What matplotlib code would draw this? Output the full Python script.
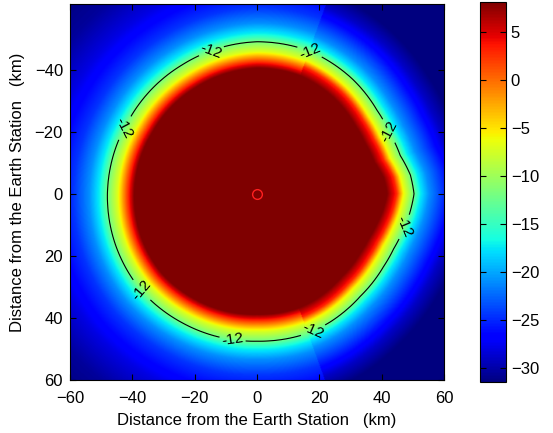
import numpy as np
import matplotlib
matplotlib.use('Agg')
import matplotlib.pyplot as plt

plt.rcParams['font.family'] = ['Liberation Sans', 'DejaVu Sans']

# radius (km) of the -12 contour, read at a set of bearings (deg, atan2(y, x))
theta_deg = [-180, -150, -120, -90, -70, -50, -35, -25, -15, -7, 0,
             8, 15, 22, 30, 45, 60, 70, 90, 120, 140, 160, 180]
contour_radius = [48.0, 47.5, 48.0, 49.0, 49.0, 48.0, 47.0, 46.9, 47.6, 49.6, 50.4,
                  49.3, 48.2, 47.3, 46.9, 46.8, 47.5, 47.8, 47.5, 48.0, 48.5, 48.3, 48.0]

# level (dB) against distance past that contour (km), west and east of the cut
offset_km = [-40.0, -8.5, -6.7, -3.2, 0.0, 2.5, 6.0, 11.0, 20.0, 30.0, 40.0]
west_level = [9.0, 8.0, 3.0, -7.0, -12.0, -17.0, -21.0, -24.5, -28.0, -30.5, -31.5]
east_offset_km = [-40.0, -8.5, -5.5, -3.3, 0.0, 2.0, 5.0, 10.0, 15.0, 20.0, 40.0]
east_level = [9.0, 8.0, 3.0, -6.0, -12.0, -17.0, -21.0, -25.0, -29.0, -31.5, -31.5]
cut_deg = 70

contour_level = -12
cbar_ticks = [-30, -25, -20, -15, -10, -5, 0, 5]
axis_ticks = [-60, -40, -20, 0, 20, 40, 60]
label_xy = [(-15, -47), (-44, -22), (-37, 31), (-8, 48), (18, 44),
            (48, 11), (44, -21), (17, -46)]

x = np.linspace(-61, 61, 489)
y = np.linspace(-62, 61, 493)
X, Y = np.meshgrid(x, y)
R = np.hypot(X, Y)
T = np.degrees(np.arctan2(Y, X))
Rc = np.interp(T, theta_deg, contour_radius)
D = R - Rc
Z = np.where(np.abs(T) < cut_deg,
             np.interp(D, east_offset_km, east_level),
             np.interp(D, offset_km, west_level))

fig = plt.figure(figsize=(5.53, 4.33), dpi=100)
ax = fig.add_axes([70 / 553, 1 - 380 / 433, 374 / 553, 375.5 / 433])
cax = fig.add_axes([480 / 553, 1 - 382 / 433, 26 / 553, 380 / 433])

im = ax.imshow(Z, cmap='jet', vmin=-31.5, vmax=8.1, origin='lower',
               extent=[x[0], x[-1], y[0], y[-1]], aspect='auto',
               interpolation='bilinear')
cs = ax.contour(X, Y, Z, levels=[contour_level], colors='k',
                linewidths=0.8, linestyles='solid')
ax.clabel(cs, fmt='%d', fontsize=11, inline=True, inline_spacing=2,
          manual=label_xy)
ax.plot(0, 0, 'o', mfc='none', mec='#ff2020', ms=7, mew=1)

ax.set_xlim(-60, 60)
ax.set_ylim(60, -61)
ax.set_xticks(axis_ticks)
ax.set_yticks(axis_ticks[1:])
ax.tick_params(direction='in', top=True, right=True, labelsize=12, length=4)
ax.tick_params(axis='x', pad=8)
ax.tick_params(axis='y', pad=5)
ax.set_xlabel('Distance from the Earth Station   (km)', fontsize=12, labelpad=5)
ax.set_ylabel('Distance from the Earth Station   (km)', fontsize=12, labelpad=7)

cb = fig.colorbar(im, cax=cax, ticks=cbar_ticks)
cb.outline.set_linewidth(0.8)
cax.tick_params(direction='in', left=True, right=True, labelsize=12, length=4)

fig.savefig('out.png', dpi=100)
